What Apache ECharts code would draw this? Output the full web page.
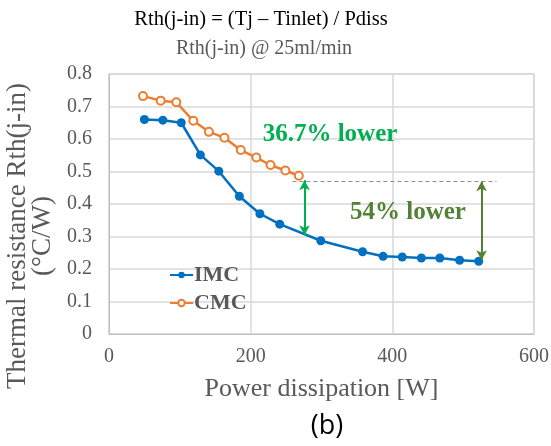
<!DOCTYPE html>
<html>
<head>
<meta charset="utf-8">
<script src="https://cdn.jsdelivr.net/npm/echarts@6/dist/echarts.min.js"></script>
<style>
  html, body { margin: 0; padding: 0; background: #fff; }
  #main { width: 551px; height: 446px; }
</style>
</head>
<body>
<div id="main"></div>
<script>
// data
const imcPower = [50, 76, 102, 129, 155, 184, 213, 241, 299, 358, 387, 414, 441, 467, 495, 522];
const imcRth = [0.660, 0.658, 0.650, 0.551, 0.501, 0.424, 0.370, 0.338, 0.287, 0.253, 0.239, 0.237, 0.234, 0.234, 0.227, 0.224];
const cmcPower = [48, 73, 95, 119, 141, 163, 186, 208, 228, 249, 268];
const cmcRth = [0.732, 0.718, 0.713, 0.656, 0.622, 0.604, 0.566, 0.543, 0.520, 0.503, 0.487];

// annotation arrows [x, yTop, yBottom]
const arrowCmc = [276, 0.473, 0.304];
const arrowImc = [526, 0.470, 0.227];
const refLine = [259, 547, 0.470];

const serif = '"Liberation Serif", "DejaVu Serif", serif';
const grey = '#595959';

const myChart = echarts.init(document.getElementById('main'));

const pairs = (xs, ys) => xs.map((x, i) => [x, ys[i]]);

const option = {
    animation: false,
    title: [
        {
            text: 'Rth(j-in) = (Tj – Tinlet) / Pdiss',
            left: 256, top: 4, textAlign: 'center',
            textStyle: { fontFamily: serif, fontSize: 20.5, fontWeight: 'normal', color: '#000' }
        },
        {
            text: 'Rth(j-in) @ 25ml/min',
            left: 259, top: 34, textAlign: 'center',
            textStyle: { fontFamily: serif, fontSize: 20, fontWeight: 'normal', color: grey }
        },
        {
            text: '(b)',
            left: 322, top: 408, textAlign: 'center',
            textStyle: { fontFamily: '"Open Sans", "Liberation Sans", sans-serif', fontSize: 27, fontWeight: 'normal', color: '#000' }
        }
    ],
    grid: {
        left: 109,
        top: 74,
        right: 17,
        bottom: 112,
        containLabel: false,
        outerBoundsMode: 'none',
        show: true,
        borderColor: '#bfbfbf',
        borderWidth: 1
    },
    legend: {
        orient: 'vertical',
        left: 164,
        top: 259,
        itemWidth: 23,
        itemHeight: 8,
        itemGap: 6,
        textStyle: { fontFamily: serif, fontSize: 22, fontWeight: 'bold', color: grey, padding: [0, 0, 0, -4] },
        data: ['IMC', 'CMC']
    },
    xAxis: {
        type: 'value',
        min: 0, max: 600, interval: 200,
        name: 'Power dissipation [W]',
        nameLocation: 'middle',
        nameGap: 42,
        nameTextStyle: { fontFamily: serif, fontSize: 26, color: grey },
        axisLine: { show: true, lineStyle: { color: '#bfbfbf' } },
        axisTick: { show: false },
        axisLabel: { fontFamily: serif, fontSize: 20, color: grey, margin: 13 },
        splitLine: { show: true, lineStyle: { color: '#d9d9d9', width: 1.5 } }
    },
    yAxis: {
        type: 'value',
        min: 0, max: 0.8, interval: 0.1,
        name: 'Thermal resistance Rth(j-in)\n(°C/W)',
        nameLocation: 'middle',
        nameRotate: 90,
        nameGap: 44,
        nameTextStyle: { fontFamily: serif, fontSize: 27, color: grey, lineHeight: 25, padding: [0, 64, 0, 0] },
        axisLine: { show: true, lineStyle: { color: '#bfbfbf' } },
        axisTick: { show: false },
        axisLabel: { fontFamily: serif, fontSize: 20, color: grey, margin: 17 },
        splitLine: { show: true, lineStyle: { color: '#d9d9d9', width: 1.5 } }
    },
    series: [
        {
            name: 'IMC',
            type: 'line',
            data: pairs(imcPower, imcRth),
            symbol: 'circle',
            symbolSize: 9,
            lineStyle: { color: '#0070C0', width: 2.5 },
            itemStyle: { color: '#0070C0' },
            markLine: {
                silent: true,
                symbol: ['arrow', 'arrow'],
                symbolSize: [8, 10],
                label: { show: false },
                data: [
                    [
                        { coord: [arrowCmc[0], arrowCmc[1]], lineStyle: { color: '#00B050', width: 2, type: 'solid' } },
                        { coord: [arrowCmc[0], arrowCmc[2]] }
                    ],
                    [
                        { coord: [arrowImc[0], arrowImc[1]], lineStyle: { color: '#548235', width: 2, type: 'solid' } },
                        { coord: [arrowImc[0], arrowImc[2]] }
                    ],
                    [
                        { coord: [refLine[0], refLine[2]], symbol: 'none', lineStyle: { color: '#8c8ca0', width: 1, type: [4, 3] } },
                        { coord: [refLine[1], refLine[2]], symbol: 'none' }
                    ]
                ]
            },
            markPoint: {
                silent: true,
                symbol: 'circle',
                symbolSize: 0,
                data: [
                    {
                        coord: [312, 0.615],
                        label: { show: true, formatter: '36.7% lower', fontFamily: serif, fontSize: 25, fontWeight: 'bold', color: '#00B050' }
                    },
                    {
                        coord: [422, 0.375],
                        label: { show: true, formatter: '54% lower', fontFamily: serif, fontSize: 25, fontWeight: 'bold', color: '#548235' }
                    }
                ]
            }
        },
        {
            name: 'CMC',
            type: 'line',
            data: pairs(cmcPower, cmcRth),
            symbol: 'circle',
            symbolSize: 8,
            lineStyle: { color: '#ED7D31', width: 2.5 },
            itemStyle: { color: '#fff', borderColor: '#ED7D31', borderWidth: 2 }
        }
    ]
};

myChart.setOption(option);
</script>
</body>
</html>
